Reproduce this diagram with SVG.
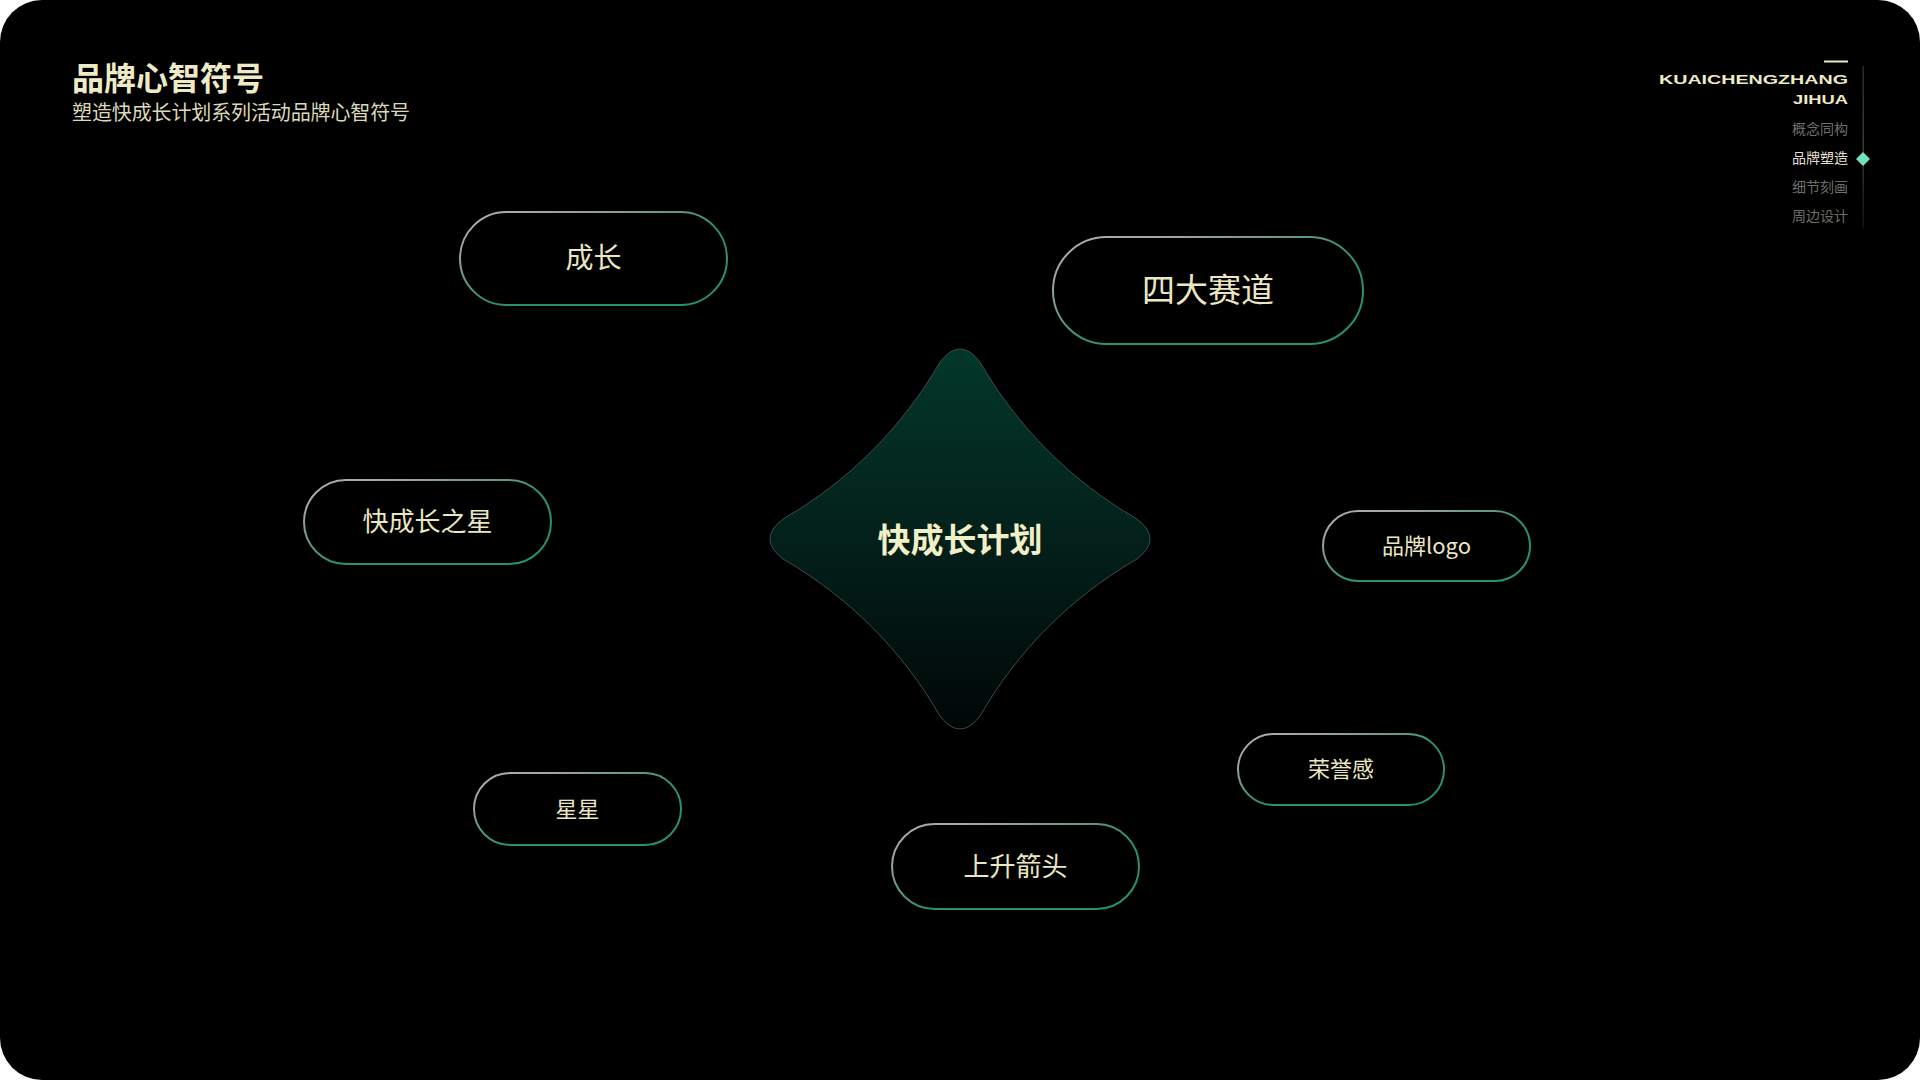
<svg xmlns="http://www.w3.org/2000/svg" width="1920" height="1080" viewBox="0 0 1920 1080">
  <defs>
    <linearGradient id="pillStroke" x1="0" y1="0" x2="1" y2="1">
      <stop offset="0" stop-color="#b0b0b0"/>
      <stop offset="0.22" stop-color="#9aa29e"/>
      <stop offset="0.55" stop-color="#2f8f70"/>
      <stop offset="1" stop-color="#23936f"/>
    </linearGradient>
    <linearGradient id="starFill" x1="0" y1="0" x2="0" y2="1">
      <stop offset="0" stop-color="#03372a"/>
      <stop offset="0.5" stop-color="#03201a"/>
      <stop offset="1" stop-color="#010706"/>
    </linearGradient>
    <linearGradient id="navLine" x1="0" y1="0" x2="0" y2="1">
      <stop offset="0" stop-color="#2a2a2a"/>
      <stop offset="0.5" stop-color="#3a3a3a"/>
      <stop offset="1" stop-color="#111"/>
    </linearGradient>
    <style>
      .pill { fill: #000; stroke: url(#pillStroke); stroke-width: 2; }
      .pt { font-family: "Noto Sans CJK SC", "Noto Sans", sans-serif; fill: #ebe7c3; font-weight: 400; text-anchor: middle; }
      .nav { font-family: "Noto Sans CJK SC", "Noto Sans", sans-serif; font-size: 14px; text-anchor: end; fill: #6f6f6a; }
    </style>
  </defs>

  <rect x="0" y="0" width="1920" height="1080" fill="#ffffff"/>
  <rect x="0" y="0" width="1920" height="1080" rx="42" ry="42" fill="#000000"/>

  <g id="header">
    <text x="72" y="90" font-family="'Noto Sans CJK SC', sans-serif" font-size="32" font-weight="700" fill="#eeeac6">品牌心智符号</text>
    <text x="72" y="120" font-family="'Noto Sans CJK SC', sans-serif" font-size="20" fill="#dcd8bc" textLength="338" lengthAdjust="spacing">塑造快成长计划系列活动品牌心智符号</text>
  </g>

  <g id="nav">
    <rect x="1824" y="60.5" width="24" height="2" fill="#eeeac6"/>
    <text x="1848" y="84" font-family="'Liberation Sans', sans-serif" font-size="13" font-weight="700" fill="#eeeac6" text-anchor="end" textLength="189" lengthAdjust="spacingAndGlyphs">KUAICHENGZHANG</text>
    <text x="1848" y="104" font-family="'Liberation Sans', sans-serif" font-size="13" font-weight="700" fill="#eeeac6" text-anchor="end" textLength="55" lengthAdjust="spacingAndGlyphs">JIHUA</text>
    <text class="nav" x="1848" y="134">概念同构</text>
    <text class="nav" x="1848" y="163" style="fill:#e2dfd4">品牌塑造</text>
    <text class="nav" x="1848" y="192">细节刻画</text>
    <text class="nav" x="1848" y="221">周边设计</text>
    <rect x="1862.5" y="66" width="1.5" height="162" fill="url(#navLine)"/>
    <path d="M1863,152 L1870,159 L1863,166 L1856,159 Z" fill="#6fe3c2"/>
  </g>

  <g id="connectors"></g>

  <g id="center-star">
    <path transform="translate(960,539)" d="M20,-177 C57.5,-111.75 111.75,-57.5 177,-20 Q203,0 177,20 C111.75,57.5 57.5,111.75 20,177 Q0,203 -20,177 C-57.5,111.75 -111.75,57.5 -177,20 Q-203,0 -177,-20 C-111.75,-57.5 -57.5,-111.75 -20,-177 Q0,-203 20,-177 Z" fill="url(#starFill)" stroke="#3c4d45" stroke-width="1"/>
    <text x="960" y="552" font-family="'Noto Sans CJK SC', sans-serif" font-size="33" font-weight="700" fill="#f2eec6" text-anchor="middle">快成长计划</text>
  </g>

  <g id="node-chengzhang">
    <rect class="pill" x="460" y="212" width="267" height="93" rx="46.5"/>
    <text class="pt" x="593.5" y="268" font-size="28">成长</text>
  </g>
  <g id="node-sidasaidao">
    <rect class="pill" x="1053" y="237" width="310" height="107" rx="53.5"/>
    <text class="pt" x="1208" y="302" font-size="33">四大赛道</text>
  </g>
  <g id="node-kuaichengzhangzhixing">
    <rect class="pill" x="304" y="480" width="247" height="84" rx="42"/>
    <text class="pt" x="427.5" y="531" font-size="26">快成长之星</text>
  </g>
  <g id="node-pinpailogo">
    <rect class="pill" x="1323" y="511" width="207" height="70" rx="35"/>
    <text class="pt" x="1426.5" y="554" font-size="22">品牌logo</text>
  </g>
  <g id="node-rongyugan">
    <rect class="pill" x="1238" y="734" width="206" height="71" rx="35.5"/>
    <text class="pt" x="1341" y="777" font-size="22">荣誉感</text>
  </g>
  <g id="node-xingxing">
    <rect class="pill" x="474" y="773" width="207" height="72" rx="36"/>
    <text class="pt" x="577.5" y="817" font-size="22">星星</text>
  </g>
  <g id="node-shangshengjiantou">
    <rect class="pill" x="892" y="824" width="247" height="85" rx="42.5"/>
    <text class="pt" x="1015.5" y="876" font-size="26">上升箭头</text>
  </g>
</svg>
